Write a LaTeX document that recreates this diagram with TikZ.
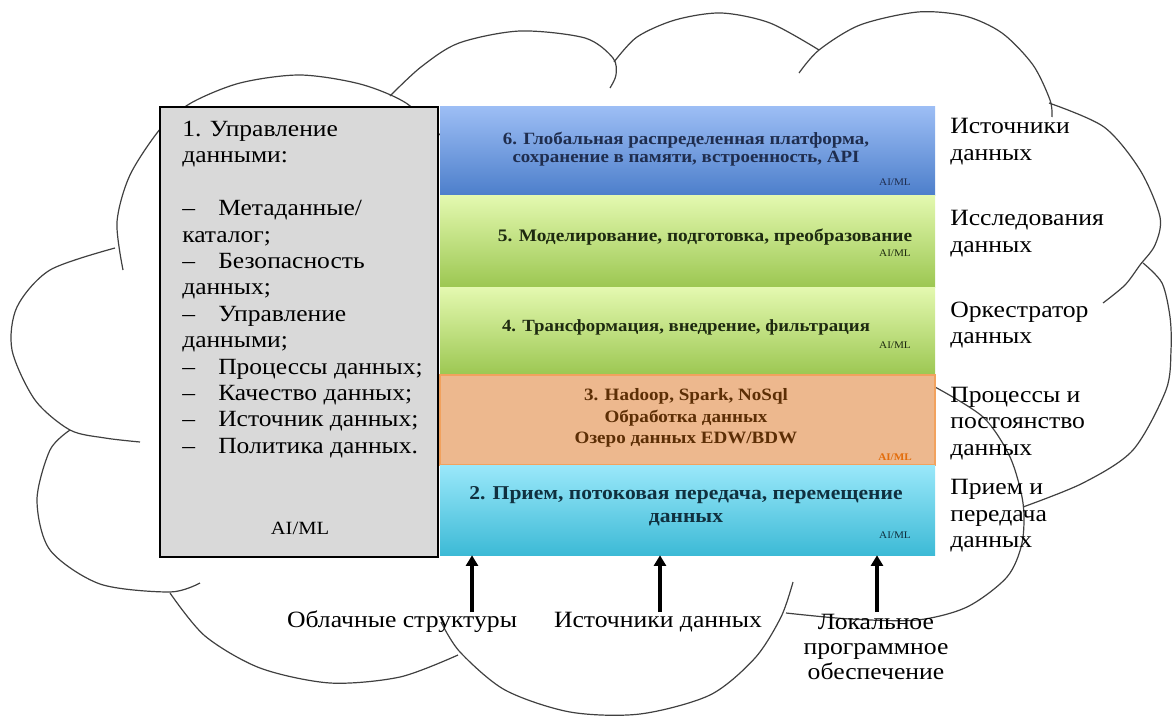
\documentclass[tikz,border=0pt]{standalone}
\usepackage{fontspec}
\setmainfont[FakeStretch=1.1]{Liberation Serif}
\usetikzlibrary{arrows.meta,positioning}
\definecolor{boxgray}{HTML}{D9D9D9}
\definecolor{blueTop}{HTML}{9DBEF5}
\definecolor{blueBot}{HTML}{4D7FCB}
\definecolor{greenTop}{HTML}{E4F9B0}
\definecolor{greenBot}{HTML}{9CC752}
\definecolor{orangeFill}{HTML}{EDB88E}
\definecolor{orangeEdge}{HTML}{F2A25E}
\definecolor{cyanTop}{HTML}{9AE8FA}
\definecolor{cyanBot}{HTML}{3DBAD6}
\definecolor{cloudline}{HTML}{404040}
\definecolor{navyText}{HTML}{1F2D4E}
\definecolor{greenText}{HTML}{1E2A10}
\definecolor{brownText}{HTML}{5C2E05}
\definecolor{tealText}{HTML}{10303F}
\definecolor{aimlOrange}{HTML}{E36C0A}

\begin{document}
\begin{tikzpicture}[x=0.75pt,y=-0.75pt,
    cloud/.style={draw=cloudline, line width=0.9pt},
    layer/.style={minimum width=371.25pt, inner sep=0pt},
    ltext/.style={align=center, inner sep=0pt},
    aiml/.style={inner sep=0pt, font=\fontsize{7.6}{8}\selectfont},
    side/.style={anchor=west, align=left, inner sep=0pt, font=\fontsize{17.5}{19.8}\selectfont},
    src/.style={align=center, inner sep=0pt, font=\fontsize{17.5}{19}\selectfont},
    up/.style={-{Triangle[width=9pt,length=8pt]}, line width=2.6pt}]
    \useasboundingbox (0,0) rectangle (1173,717);

    % cloud
    \draw[cloud] plot[smooth] coordinates {(123,270) (117,222) (130,175) (161,128) (191,103) (240,83) (300,75) (360,84) (406,103) (440,135)};
    \draw[cloud] plot[smooth] coordinates {(390,96) (421,67) (459,43) (520,31) (585,38) (613,58) (616,75) (610,88)};
    \draw[cloud] plot[smooth] coordinates {(614,62) (637,37) (675,20) (721,13) (770,23) (819,50)};
    \draw[cloud] plot[smooth] coordinates {(799,73) (819,50) (860,25) (918,12) (965,16) (1002,33) (1033,65) (1050,100) (1052,117)};
    \draw[cloud] plot[smooth] coordinates {(1049,103) (1104,127) (1140,170) (1160,217) (1155,245) (1140,265) (1125,285) (1103,303)};
    \draw[cloud] plot[smooth] coordinates {(1143,263) (1162,283) (1170,317) (1171,350) (1166,390) (1133,450) (1083,483) (1023,507)};
    \draw[cloud] plot[smooth] coordinates {(935,387) (983,417) (1010,457) (1023,503) (1022,543) (1007,577) (967,607) (917,620) (850,619) (786,613)};
    \draw[cloud] plot[smooth] coordinates {(793,582) (781,617) (755,658) (710,695) (640,714) (570,712) (505,690) (460,652) (441,622)};
    \draw[cloud] plot[smooth] coordinates {(458,655) (400,677) (330,683) (260,668) (205,636) (170,593)};
    \draw[cloud] plot[smooth] coordinates {(200,583) (170,592) (100,584) (50,550) (37,500) (50,450) (70,430)};
    \draw[cloud] plot[smooth] coordinates {(140,442) (105,438) (70,430) (35,400) (12,350) (17,307) (50,270) (115,248)};

    % management box
    \node[draw=black, line width=1.2pt, fill=boxgray, minimum width=208.5pt, minimum height=337.5pt, inner sep=0pt] (mgmt) at (299,332) {};
    \node[anchor=north west, align=left, inner sep=0pt, font=\fontsize{17.4}{19.8}\selectfont] (mgmtText) at (182,121)
      {1. Управление\\ данными:\\[19.8pt]
       \makebox[27pt][l]{–}Метаданные/\\ каталог;\\
       \makebox[27pt][l]{–}Безопасность\\ данных;\\
       \makebox[27pt][l]{–}Управление\\ данными;\\
       \makebox[27pt][l]{–}Процессы данных;\\
       \makebox[27pt][l]{–}Качество данных;\\
       \makebox[27pt][l]{–}Источник данных;\\
       \makebox[27pt][l]{–}Политика данных.};
    \node[inner sep=0pt, font=\fontsize{14}{15}\selectfont] (mgmtAI) at (300,528) {AI/ML};

    % layers
    \node[layer, minimum height=66.75pt, top color=blueTop, bottom color=blueBot] (l6) at (687.5,150.5) {};
    \node[layer, minimum height=69pt, top color=greenTop, bottom color=greenBot] (l5) at (687.5,241) {};
    \node[layer, minimum height=66pt, top color=greenTop, bottom color=greenBot] (l4) at (687.5,331) {};
    \node[layer, minimum height=67.5pt, fill=orangeFill, draw=orangeEdge, line width=0.8pt] (l3) at (687.5,420) {};
    \node[layer, minimum height=67.5pt, top color=cyanTop, bottom color=cyanBot] (l2) at (687.5,510) {};

    \node[ltext, text=navyText, font=\bfseries\fontsize{12.9}{13.5}\selectfont] (t6) at (686,149) {6. Глобальная распределенная платформа,\\ сохранение в памяти, встроенность, API};
    \node[ltext, text=greenText, font=\bfseries\fontsize{13.2}{14}\selectfont] (t5) at (705,237) {5. Моделирование, подготовка, преобразование};
    \node[ltext, text=greenText, font=\bfseries\fontsize{12.8}{14}\selectfont] (t4) at (686,327) {4. Трансформация, внедрение, фильтрация};
    \node[ltext, text=brownText, font=\bfseries\fontsize{13}{16}\selectfont] (t3) at (686,418) {3. Hadoop, Spark, NoSql\\ Обработка данных\\ Озеро данных EDW/BDW};
    \node[ltext, text=tealText, font=\bfseries\fontsize{14.7}{17.2}\selectfont] (t2) at (686,506) {2. Прием, потоковая передача, перемещение\\ данных};

    \node[aiml, text=navyText] (ai6) at (895,182) {AI/ML};
    \node[aiml, text=greenText] (ai5) at (895,253) {AI/ML};
    \node[aiml, text=greenText] (ai4) at (895,345) {AI/ML};
    \node[aiml, text=aimlOrange, font=\bfseries\fontsize{7.6}{8}\selectfont] (ai3) at (895,457) {AI/ML};
    \node[aiml, text=tealText] (ai2) at (895,535) {AI/ML};

    % roles on the right
    \node[side] (r6) at (950,141.5) {Источники\\ данных};
    \node[side] (r5) at (950,233.5) {Исследования\\ данных};
    \node[side] (r4) at (950,325) {Оркестратор\\ данных};
    \node[side] (r3) at (950,423.5) {Процессы и\\ постоянство\\ данных};
    \node[side] (r2) at (950,516) {Прием и\\ передача\\ данных};

    % sources
    \node[src] (cloudSrc) at (402,622) {Облачные структуры};
    \node[src] (dataSrc) at (658,622) {Источники данных};
    \node[src] (localSrc) at (876,647) {Локальное\\ программное\\ обеспечение};

    \coordinate (a1) at (472,612);
    \coordinate (a2) at (660,612);
    \coordinate (a3) at (877,612);
    \draw[up] (a1) -- (a1 |- l2.south);
    \draw[up] (a2) -- (a2 |- l2.south);
    \draw[up] (a3) -- (a3 |- l2.south);
\end{tikzpicture}
\end{document}
